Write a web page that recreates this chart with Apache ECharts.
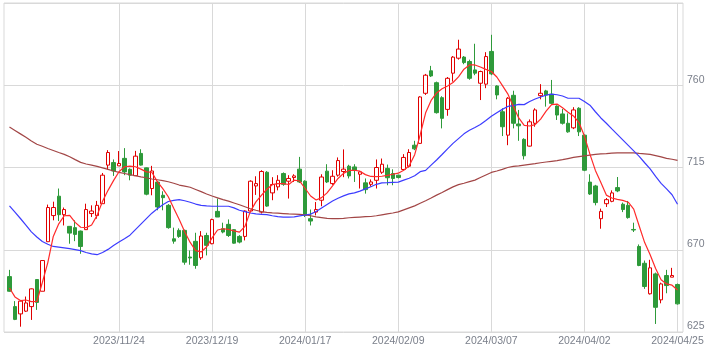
<!DOCTYPE html>
<html>
<head>
<meta charset="utf-8">
<script src="https://cdn.jsdelivr.net/npm/echarts@6/dist/echarts.min.js"></script>
<style>html,body{margin:0;padding:0;background:#fff}#c{width:725px;height:357px}</style>
</head>
<body>
<div id="c"></div>
<script>
const dates = ['2023/10/25','2023/10/26','2023/10/27','2023/10/30','2023/10/31','2023/11/01','2023/11/02','2023/11/06','2023/11/07','2023/11/08',
'2023/11/09','2023/11/10','2023/11/13','2023/11/14','2023/11/15','2023/11/16','2023/11/17','2023/11/20','2023/11/21','2023/11/22',
'2023/11/24','2023/11/27','2023/11/28','2023/11/29','2023/11/30','2023/12/01','2023/12/04','2023/12/05','2023/12/06','2023/12/07',
'2023/12/08','2023/12/11','2023/12/12','2023/12/13','2023/12/14','2023/12/15','2023/12/18','2023/12/19','2023/12/20','2023/12/21',
'2023/12/22','2023/12/25','2023/12/26','2023/12/27','2023/12/28','2023/12/29','2024/01/04','2024/01/05','2024/01/09','2024/01/10',
'2024/01/11','2024/01/12','2024/01/15','2024/01/16','2024/01/17','2024/01/18','2024/01/19','2024/01/22','2024/01/23','2024/01/24',
'2024/01/25','2024/01/26','2024/01/29','2024/01/30','2024/01/31','2024/02/01','2024/02/02','2024/02/05','2024/02/06','2024/02/07',
'2024/02/08','2024/02/09','2024/02/13','2024/02/14','2024/02/15','2024/02/16','2024/02/19','2024/02/20','2024/02/21','2024/02/22',
'2024/02/26','2024/02/27','2024/02/28','2024/02/29','2024/03/01','2024/03/04','2024/03/05','2024/03/06','2024/03/07','2024/03/08',
'2024/03/11','2024/03/12','2024/03/13','2024/03/14','2024/03/15','2024/03/18','2024/03/19','2024/03/21','2024/03/22','2024/03/25',
'2024/03/26','2024/03/27','2024/03/28','2024/03/29','2024/04/01','2024/04/02','2024/04/03','2024/04/04','2024/04/05','2024/04/08',
'2024/04/09','2024/04/10','2024/04/11','2024/04/12','2024/04/15','2024/04/16','2024/04/17','2024/04/18','2024/04/19','2024/04/22',
'2024/04/23','2024/04/24','2024/04/25'];

const tickLabels = ['2023/11/24','2023/12/19','2024/01/17','2024/02/09','2024/03/07','2024/04/02','2024/04/25'];
const yTicks = [625, 670, 715, 760, 805];

const opens = [655.3,638.9,634.9,636.4,638.9,653.7,647.3,674.4,688.7,699.3,
689.2,682.8,682.1,680.2,681.0,689.8,688.7,695.2,716.3,717.7,
715.9,720.0,714.0,710.5,722.7,714.8,703.5,707.0,699.8,694.3,
676.0,680.6,680.6,666.0,674.6,665.6,677.8,673.3,691.0,681.5,
683.9,681.0,677.3,677.3,691.2,704.9,690.6,712.4,701.1,704.4,
711.7,707.5,709.5,714.1,707.5,687.0,690.6,697.1,713.0,706.2,
710.8,712.8,715.7,715.3,711.3,706.6,705.8,708.0,712.4,714.5,
711.7,710.8,713.9,715.7,727.2,728.2,755.6,767.9,761.4,753.2,
746.8,766.6,774.8,775.4,773.0,768.4,761.1,760.6,778.5,759.6,
745.5,732.7,754.5,738.8,730.4,726.7,739.2,754.3,756.9,755.1,
748.6,744.3,739.2,736.7,747.4,732.7,707.0,704.9,687.0,695.2,
696.5,704.0,694.9,694.3,681.1,671.8,662.6,645.9,656.8,642.6,
655.9,655.0,651.0];
const closes = [647.3,631.9,641.9,640.9,648.6,641.2,664.1,693.1,693.1,689.2,
692.0,679.1,678.4,671.8,692.0,691.2,694.3,710.8,723.2,713.1,
717.2,712.6,710.8,721.2,716.3,700.4,713.1,693.4,698.5,682.1,
674.7,677.3,663.2,665.5,661.4,677.5,672.4,686.5,687.9,679.7,
677.8,673.6,674.2,691.2,707.5,706.2,712.8,693.9,705.7,708.0,
705.8,709.0,710.4,707.1,688.8,685.7,692.0,709.8,707.1,710.2,
718.8,714.1,710.4,713.5,712.6,702.9,707.1,715.0,716.8,709.4,
709.0,709.5,720.5,723.2,725.2,753.6,765.5,765.1,745.0,741.9,
763.8,775.4,779.8,772.4,763.8,766.6,767.5,775.7,766.2,754.7,
737.3,752.9,739.2,737.8,721.4,740.0,746.5,755.6,754.7,750.1,
743.7,739.2,734.5,746.5,734.5,713.5,700.5,695.8,691.0,697.4,
701.1,702.2,692.0,687.6,680.8,661.4,649.9,660.1,638.5,651.3,
650.4,655.9,640.4];
const lows = [647.0,631.5,627.9,636.0,631.6,637.1,647.3,674.4,686.1,685.7,
683.3,673.3,674.7,667.8,681.0,687.9,687.0,695.2,714.0,710.4,
715.9,710.8,708.0,710.5,716.0,699.8,699.8,691.6,691.6,681.5,
673.3,676.5,661.8,661.8,659.6,664.5,666.9,673.0,687.9,679.0,
677.0,673.3,673.5,675.1,690.5,700.0,689.8,693.5,697.1,702.5,
705.0,698.0,707.1,706.5,687.9,683.3,688.8,693.8,706.5,705.5,
710.0,709.7,709.0,707.1,703.5,700.7,704.5,703.5,711.5,705.3,
705.3,709.0,713.5,715.0,724.5,728.0,754.7,764.5,744.5,736.4,
743.3,762.0,774.0,771.5,763.0,765.5,751.9,758.4,765.5,752.3,
732.2,727.2,736.4,729.6,719.4,726.5,737.3,752.3,748.3,749.5,
741.0,738.5,734.0,736.0,732.2,713.0,700.0,694.3,681.5,693.4,
696.0,701.5,690.6,687.0,679.7,661.0,648.6,645.5,629.4,640.7,
646.2,655.0,640.0];
const highs = [659.0,641.9,642.2,644.4,648.8,653.9,664.1,694.7,696.3,703.5,
693.1,682.8,686.1,680.5,695.2,694.3,696.7,712.0,724.5,719.4,
724.0,725.6,714.5,724.1,725.0,715.0,715.9,707.5,702.0,695.0,
682.1,681.7,681.0,669.6,679.3,680.2,679.3,687.0,698.0,684.8,
686.6,681.3,678.0,691.5,708.0,710.2,713.5,713.0,709.7,710.8,
712.3,710.8,711.3,720.8,708.0,692.0,696.1,711.3,716.8,713.5,
720.5,724.9,716.5,716.8,713.0,709.0,708.5,719.4,719.9,716.6,
714.0,711.0,722.3,725.0,729.6,754.0,766.2,770.6,762.0,754.0,
764.5,776.0,784.9,776.0,774.0,782.7,768.0,778.1,787.6,760.0,
747.4,753.5,757.0,746.5,731.0,741.3,747.4,760.6,757.5,762.9,
749.0,747.0,744.6,748.0,748.0,733.0,711.3,705.5,692.5,698.3,
702.5,709.8,695.8,696.7,684.8,672.9,664.1,664.5,657.5,652.0,
659.0,660.1,651.5];

const maShort = [649.1,644.2,642.2,642.5,641.6,641.7,652.1,663.0,677.3,684.2,
688.6,688.8,685.0,682.3,682.1,683.5,688.8,696.5,702.5,707.8,
712.7,715.4,715.7,715.4,714.1,712.6,712.4,707.3,703.4,699.0,
692.7,686.6,679.9,674.0,669.5,668.8,671.5,676.5,680.8,681.5,
681.1,680.3,679.6,682.8,691.0,696.2,699.8,703.1,705.6,706.2,
706.2,705.7,708.1,707.6,703.5,699.4,697.2,698.5,701.1,704.9,
709.0,711.8,713.4,713.5,713.0,711.1,710.1,710.0,710.2,710.7,
711.3,711.9,713.5,716.0,722.0,732.8,744.9,751.7,755.8,758.1,
759.6,761.5,764.6,768.8,771.1,771.1,770.0,768.7,767.5,764.5,
759.9,755.3,748.5,742.1,738.0,737.7,738.5,741.5,745.8,749.4,
749.7,747.7,745.2,743.2,739.6,732.2,722.3,713.4,706.8,699.9,
698.3,697.6,697.0,696.0,692.2,683.0,673.9,667.3,659.7,653.6,
651.3,650.6,648.0];
const maMid = [694.0,690.6,687.1,683.5,679.8,677.0,674.5,673.0,671.8,671.4,
671.0,670.6,670.1,669.5,668.5,667.7,667.3,668.5,670.2,672.3,
674.2,676.0,678.0,681.0,684.0,687.0,690.0,692.4,694.6,696.4,
697.0,697.4,696.8,696.0,695.0,694.3,694.0,693.8,693.8,693.8,
693.8,692.9,691.6,690.9,690.1,689.6,689.4,689.2,688.6,688.1,
687.9,687.9,688.0,688.5,689.0,689.5,690.9,692.9,694.8,696.7,
698.2,699.5,700.6,701.1,702.1,703.3,704.5,705.8,706.6,706.7,
706.9,707.0,708.1,709.1,710.5,712.7,713.4,716.3,719.1,722.1,
725.2,728.2,730.8,733.4,735.4,736.9,738.5,740.7,743.0,745.0,
746.8,748.4,748.9,749.5,749.4,751.1,752.5,753.6,754.6,755.1,
754.8,754.1,752.9,752.9,752.9,751.1,749.1,745.5,742.1,739.2,
736.1,733.1,730.1,727.1,724.1,721.1,717.6,714.2,710.1,706.3,
703.3,700.1,694.9];
const maLong = [737.1,735.3,733.4,731.5,729.5,727.7,726.6,725.4,724.3,723.2,
722.2,720.9,719.3,717.8,716.9,716.3,715.6,714.8,714.0,713.1,
712.3,711.7,711.1,710.5,709.9,709.4,708.7,708.3,707.8,707.2,
706.4,705.4,704.8,704.2,703.0,701.8,700.5,699.4,698.4,697.4,
696.6,695.6,694.6,693.5,692.4,691.6,690.9,690.5,690.2,690.0,
689.8,689.6,689.5,689.4,689.1,688.6,688.0,687.6,687.2,687.0,
687.0,687.2,687.5,687.7,687.9,688.1,688.2,688.6,689.1,689.6,
690.1,690.7,691.8,692.9,694.0,695.4,696.8,698.3,699.9,701.3,
702.9,704.4,705.6,706.4,707.3,708.1,709.5,710.9,712.3,713.1,
714.0,715.0,715.6,715.9,716.3,716.7,717.1,717.6,718.0,718.4,
718.8,719.3,719.9,720.5,721.0,721.4,721.8,722.2,722.5,722.6,
722.9,723.0,723.0,723.0,723.0,722.7,722.5,722.2,721.5,720.8,
720.0,719.5,718.9];

// one empty slot at each end of the category axis
const cats = [''].concat(dates, ['']);
const pad = a => ['-'].concat(a, ['-']);
const kData = pad(dates.map((d, i) => [opens[i], closes[i], lows[i], highs[i]]));
const showIdx = new Set(tickLabels.map(t => cats.indexOf(t)));
const showFn = (idx) => showIdx.has(idx);

const chart = echarts.init(document.getElementById('c'), null, {renderer: 'canvas'});
const lineBase = {type: 'line', symbol: 'none', smooth: false, silent: true, animation: false, z: 3};
chart.setOption({
  animation: false,
  backgroundColor: '#fff',
  grid: {left: 4, right: 42, top: 3, bottom: 25, show: true, borderColor: '#d9d9d9', borderWidth: 1, backgroundColor: 'transparent'},
  xAxis: {
    type: 'category', data: cats, boundaryGap: false,
    axisLine: {show: false}, axisTick: {show: false},
    axisLabel: {interval: showFn, color: '#7a7f8a', fontSize: 10.5, fontFamily: 'Liberation Sans', margin: 4},
    splitLine: {show: true, interval: showFn, lineStyle: {color: '#d9d9d9', width: 1}}
  },
  yAxis: {
    type: 'value', position: 'right', min: yTicks[0], max: yTicks[yTicks.length - 1], interval: 45, scale: true,
    axisLine: {show: false}, axisTick: {show: false},
    axisLabel: {showMaxLabel: false, color: '#7a7f8a', fontSize: 10.5, fontFamily: 'Liberation Sans', margin: 4, verticalAlign: 'bottom'},
    splitLine: {show: true, lineStyle: {color: '#d9d9d9', width: 1}}
  },
  series: [
    {type: 'candlestick', data: kData, barWidth: 4, z: 2,
     itemStyle: {color: '#ffffff', color0: '#2e9a3a', borderColor: '#e00000', borderColor0: '#2e9a3a', borderWidth: 1}},
    Object.assign({}, lineBase, {data: pad(maLong), lineStyle: {color: '#a24646', width: 1.2}}),
    Object.assign({}, lineBase, {data: pad(maMid), lineStyle: {color: '#3c3cff', width: 1.2}}),
    Object.assign({}, lineBase, {data: pad(maShort), lineStyle: {color: '#ff2a2a', width: 1.2}})
  ]
});
</script>
</body>
</html>
